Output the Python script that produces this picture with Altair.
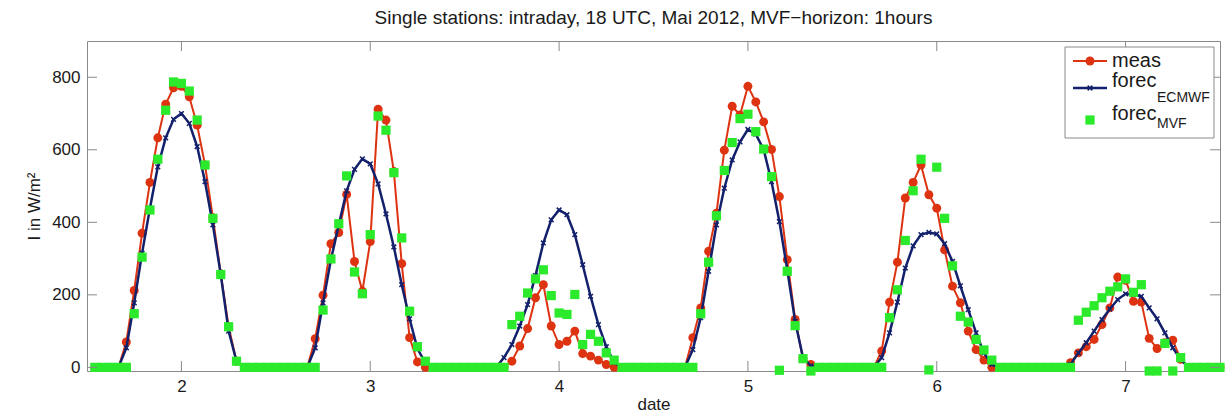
import altair as alt
import pandas as pd

RED = "#DD3311"
NAVY = "#13206B"
GREEN = "#2BEA2B"
GRAY = "#8A8A8A"
FONT = "Liberation Sans"

days = [2, 3, 4, 5, 6, 7]
# daytime readings for hours k = -7 .. +8 around each day mark (0 at night)
meas_day = [
    [70, 212, 370, 510, 633, 726, 771, 775, 746, 668, 558, 413, 258, 112, 17, 0],
    [79, 199, 341, 372, 477, 292, 210, 347, 712, 682, 540, 286, 82, 15, 0, 0],
    [0, 17, 59, 107, 192, 228, 114, 63, 72, 100, 38, 31, 20, 8, 0, 0],
    [82, 164, 320, 425, 599, 720, 696, 775, 732, 677, 601, 471, 297, 132, 24, 8],
    [45, 180, 290, 467, 510, 558, 476, 439, 324, 224, 178, 100, 49, 20, 0, 0],
    [13, 40, 57, 77, 118, 164, 249, 240, 182, 180, 80, 52, 68, 75, 22, 0],
]
ecmwf_day = [
    [54, 178, 315, 439, 553, 633, 684, 700, 673, 609, 512, 393, 256, 100, 17, 0],
    [54, 178, 297, 393, 487, 546, 575, 561, 506, 423, 332, 228, 134, 51, 13, 0],
    [27, 63, 114, 173, 253, 343, 407, 434, 421, 366, 283, 196, 118, 57, 13, 0],
    [49, 137, 265, 393, 494, 572, 622, 656, 643, 601, 512, 402, 269, 127, 27, 4],
    [27, 95, 180, 274, 335, 366, 372, 368, 341, 292, 225, 159, 95, 40, 8, 0],
    [8, 40, 68, 100, 132, 161, 187, 203, 201, 196, 164, 134, 95, 54, 22, 0],
]
mvf_day = [
    [0, 148, 304, 434, 574, 709, 787, 783, 762, 682, 558, 411, 256, 112, 17, 0],
    [0, 158, 299, 396, 528, 263, 203, 366, 693, 654, 537, 357, 155, 57, 17, 0],
    [0, 118, 141, 205, 244, 269, 198, 150, 146, 201, 63, 91, 72, 40, 20, 0],
    [0, 148, 290, 418, 543, 620, 686, 698, 650, 602, 526, -8, 265, 115, 24, -10],
    [0, 137, 214, 350, 487, 574, -7, 552, 411, 280, 141, 125, 77, 48, 20, 0],
    [0, 130, 152, 170, 192, 210, 222, 244, 207, 228, -10, -10, 66, -10, 27, 0],
]
night_value = 0

x_ticks = [2, 3, 4, 5, 6, 7]
y_ticks = [0, 200, 400, 600, 800]
title_text = "Single stations: intraday, 18 UTC, Mai 2012, MVF\u2212horizon: 1hours"

# assemble hourly series (first point 2 - 11/24, last point 7 + 12/24)
t, meas, ecmwf, mvf = [], [], [], []
for di, d in enumerate(days):
    k_start = -11 if d == days[0] else -12
    k_end = 12 if d == days[-1] else 11
    for k in range(k_start, k_end + 1):
        t.append(d + k / 24)
        if -7 <= k <= 8:
            meas.append(meas_day[di][k + 7])
            ecmwf.append(ecmwf_day[di][k + 7])
            mvf.append(mvf_day[di][k + 7])
        else:
            meas.append(night_value)
            ecmwf.append(night_value)
            mvf.append(night_value)

df = pd.DataFrame({"t": t, "meas": meas, "ecmwf": ecmwf, "mvf": mvf})

W, H = 1133, 330

xscale = alt.Scale(domain=[1.5, 7.5], nice=False, zero=False)
yscale = alt.Scale(domain=[-10, 900], nice=False, zero=False)
xaxis = alt.Axis(values=x_ticks, title="date", labelPadding=7, titlePadding=2, format="d")
yaxis = alt.Axis(values=y_ticks, title="I in W/m\u00b2", labelPadding=7, titlePadding=8, format="d")


def X(field):
    return alt.X(f"{field}:Q", scale=xscale, axis=xaxis)


def Y(field):
    return alt.Y(f"{field}:Q", scale=yscale, axis=yaxis)


CIRCLE = 80
SQUARE = 85

base = alt.Chart(df)
meas_line = base.mark_line(color=RED, strokeWidth=2).encode(x=X("t"), y=Y("meas"))
meas_pts = base.mark_circle(color=RED, size=CIRCLE, opacity=1).encode(x=X("t"), y=Y("meas"))
ec_line = base.mark_line(color=NAVY, strokeWidth=2.5).encode(x=X("t"), y=Y("ecmwf"))
ec_pts = base.mark_point(shape="M-1,-1L1,1M-1,1L1,-1", filled=False, color=NAVY,
                         strokeWidth=1.5, size=22, opacity=1).encode(x=X("t"), y=Y("ecmwf"))
mvf_pts = base.mark_square(color=GREEN, size=SQUARE, opacity=1).encode(x=X("t"), y=Y("mvf"))

# inward tick marks on all four sides
xt = alt.Chart(pd.DataFrame({"v": x_ticks}))
yt = alt.Chart(pd.DataFrame({"v": y_ticks}))
tick_b = xt.mark_rule(color=GRAY, strokeWidth=1).encode(x=X("v"), y=alt.value(H), y2=alt.value(H - 10))
tick_t = xt.mark_rule(color=GRAY, strokeWidth=1).encode(x=X("v"), y=alt.value(0), y2=alt.value(10))
tick_l = yt.mark_rule(color=GRAY, strokeWidth=1).encode(y=Y("v"), x=alt.value(0), x2=alt.value(10))
tick_r = yt.mark_rule(color=GRAY, strokeWidth=1).encode(y=Y("v"), x=alt.value(W - 10), x2=alt.value(W))

# legend box
one = alt.Chart(pd.DataFrame({"a": [0]}))
lx0, lx1, ly0, ly1 = 978, 1127, 6, 97
leg_box = one.mark_rect(fill="white", stroke=GRAY, strokeWidth=1).encode(
    x=alt.value(lx0), x2=alt.value(lx1), y=alt.value(ly0), y2=alt.value(ly1))
leg_l1 = one.mark_rule(color=RED, strokeWidth=2).encode(x=alt.value(986), x2=alt.value(1020), y=alt.value(20))
leg_p1 = one.mark_circle(color=RED, size=CIRCLE, opacity=1).encode(x=alt.value(1003), y=alt.value(20))
leg_l2 = one.mark_rule(color=NAVY, strokeWidth=2.5).encode(x=alt.value(986), x2=alt.value(1020), y=alt.value(47))
leg_p2 = one.mark_point(shape="M-1,-1L1,1M-1,1L1,-1", filled=False, color=NAVY, strokeWidth=1.5,
                        size=22, opacity=1).encode(x=alt.value(1003), y=alt.value(47))
leg_p3 = one.mark_square(color=GREEN, size=SQUARE, opacity=1).encode(x=alt.value(1003), y=alt.value(79))


def txt(s, x, y, size):
    return one.mark_text(text=s, align="left", baseline="alphabetic", font=FONT, fontSize=size,
                         color="#1a1a1a").encode(x=alt.value(x), y=alt.value(y))


leg_t1 = txt("meas", 1025, 26, 20)
leg_t2 = txt("forec", 1025, 46, 20)
leg_s2 = txt("ECMWF", 1070, 61, 14)
leg_t3 = txt("forec", 1025, 79, 20)
leg_s3 = txt("MVF", 1070, 87, 14)

chart = alt.layer(
    meas_line, meas_pts, ec_line, ec_pts, mvf_pts,
    tick_b, tick_t, tick_l, tick_r,
    leg_box, leg_l1, leg_p1, leg_l2, leg_p2, leg_p3,
    leg_t1, leg_t2, leg_s2, leg_t3, leg_s3,
).properties(
    width=W, height=H,
    title=alt.TitleParams(title_text, fontSize=19, fontWeight="normal", font=FONT,
                          color="#1a1a1a", anchor="middle", offset=13),
    autosize=alt.AutoSizeParams(type="none"),
    padding={"left": 87, "top": 41, "right": 8, "bottom": 45},
).configure_view(
    stroke=GRAY, strokeWidth=1
).configure_axis(
    domain=False, ticks=False, grid=False,
    labelFont=FONT, labelFontSize=17, labelColor="#1a1a1a",
    titleFont=FONT, titleFontSize=17, titleFontWeight="normal", titleColor="#1a1a1a",
)

chart.save("out.html", embed_options={"renderer": "svg", "actions": False})
